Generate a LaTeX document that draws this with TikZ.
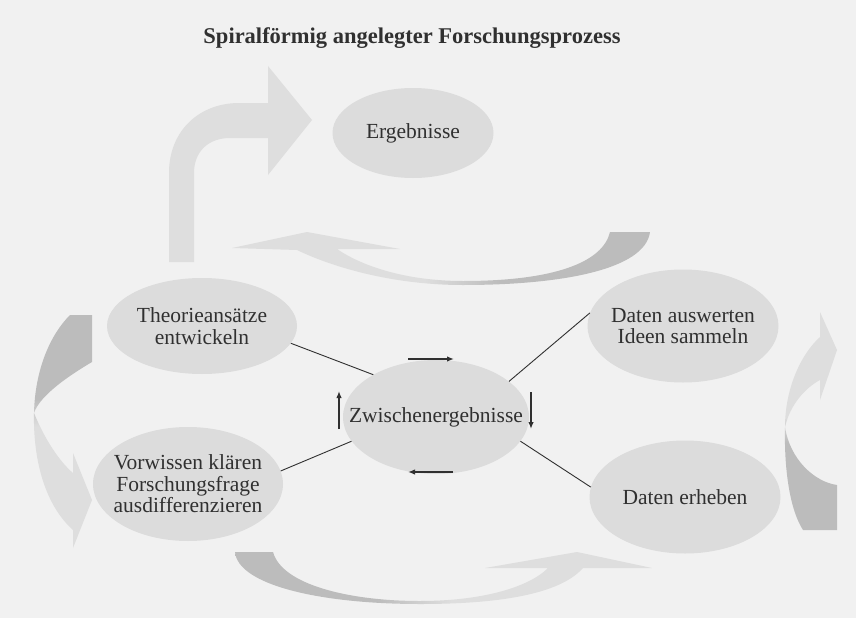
\documentclass[tikz,border=0pt]{standalone}
\usepackage{fontspec}
\setmainfont{Liberation Serif}
\usetikzlibrary{arrows.meta,shapes.geometric}
\definecolor{bg}{HTML}{F1F1F1}
\definecolor{ellfill}{HTML}{DCDCDC}
\definecolor{ribL}{HTML}{DEDEDE}
\definecolor{ribD}{HTML}{BCBCBC}
\definecolor{ink}{HTML}{303030}
\pgfdeclarehorizontalshading{rightdark}{100bp}{color(0bp)=(ribL); color(48bp)=(ribL); color(57bp)=(ribD); color(100bp)=(ribD)}
\pgfdeclarehorizontalshading{leftdark}{100bp}{color(0bp)=(ribD); color(42bp)=(ribD); color(51bp)=(ribL); color(100bp)=(ribL)}
\pgfdeclareverticalshading{topdark}{100bp}{color(0bp)=(ribL); color(51bp)=(ribL); color(57bp)=(ribD); color(100bp)=(ribD)}
\pgfdeclareverticalshading{bottomdark}{100bp}{color(0bp)=(ribD); color(45bp)=(ribD); color(51bp)=(ribL); color(100bp)=(ribL)}
\begin{document}
\begin{tikzpicture}[x=1pt,y=-1pt,
  ell/.style={ellipse, fill=ellfill, draw=none, inner sep=0pt},
  txt/.style={align=center, text=ink, inner sep=0pt, font=\fontsize{21.5}{21.5}\selectfont},
  conn/.style={draw=ink, line width=0.9pt},
  cyc/.style={draw=ink, line width=1.4pt, -{Latex[length=7pt,width=5.5pt]}}]
\fill[bg] (0,0) rectangle (856,618);
\useasboundingbox (0,0) rectangle (856,618);

% title
\node[font=\bfseries\fontsize{22.5}{22.5}\selectfont, text=ink, anchor=base] (title) at (412,44) {Spiralförmig angelegter Forschungsprozess};

% ribbon arrows
\fill[ribL] (169,262) -- (169,173) .. controls (169,130) and (200,103) .. (239,103) -- (268,103) -- (268,66) -- (312,120) -- (268,175) -- (268,138) -- (230,138) .. controls (208,138) and (194,152) .. (194,173) -- (194,262) -- cycle;

\shade[shading=rightdark] (610,232) -- (650,232) .. controls (645,270) and (560,285) .. (463,285) .. controls (390,285) and (330,266) .. (297,250) -- (232,248) -- (307,232) -- (400,249) -- (337,249) .. controls (365,268) and (410,281) .. (463,281) .. controls (555,281) and (603,262) .. (610,232) -- cycle;

\shade[shading=leftdark] (235,552) -- (273,552) .. controls (282,585) and (350,601) .. (420,601) .. controls (480,601) and (528,588) .. (548,568) -- (485,568) -- (577,552) -- (652,568) -- (583,568) .. controls (560,594) and (500,604) .. (420,604) .. controls (320,604) and (238,585) .. (235,552) -- cycle;

\shade[shading=topdark] (70,315) -- (92,315) -- (92,362) .. controls (70,375) and (40,395) .. (34,413) .. controls (45,440) and (60,462) .. (73,473) -- (73,453) -- (92,500) -- (73,548) -- (73,530) .. controls (45,505) and (33,460) .. (34,413) .. controls (35,370) and (50,335) .. (70,315) -- cycle;

\shade[shading=bottomdark] (803,530) -- (837,530) -- (837,485) .. controls (815,482) and (790,460) .. (785,427) .. controls (790,405) and (805,388) .. (820,380) -- (820,400) -- (837,350) -- (820,312) -- (820,337) .. controls (800,355) and (785,390) .. (785,427) .. controls (784,470) and (790,510) .. (803,530) -- cycle;

% ellipses
\node[ell, minimum width=161pt, minimum height=90pt] (erg) at (413,133) {};
\node[ell, minimum width=190pt, minimum height=96pt] (theo) at (202,326) {};
\node[ell, minimum width=191pt, minimum height=113pt] (da) at (683,326) {};
\node[ell, minimum width=186pt, minimum height=114pt] (zw) at (436,417) {};
\node[ell, minimum width=190pt, minimum height=114pt] (vw) at (188,484) {};
\node[ell, minimum width=191pt, minimum height=113pt] (de) at (685,497) {};

\node[txt] (ergt) at (erg) {Ergebnisse};
\node[txt] (theot) at (theo) {Theorieansätze\\entwickeln};
\node[txt] (dat) at (da) {Daten auswerten\\Ideen sammeln};
\node[txt] (zwt) at (zw) {Zwischenergebnisse};
\node[txt] (vwt) at (vw) {Vorwissen klären\\Forschungsfrage\\ausdifferenzieren};
\node[txt] (det) at (de) {Daten erheben};

% connectors
\draw[conn] (theo.-11) -- (zw.146);
\draw[conn] (da.172) -- (zw.26);
\draw[conn] (vw.8) -- (zw.196);
\draw[conn] (de.174) -- (zw.-16);

% small cycle arrows
\coordinate (t1) at (408,359); \coordinate (t2) at (454,359);
\coordinate (r1) at (531,392); \coordinate (r2) at (531,429);
\coordinate (b1) at (453,472); \coordinate (b2) at (408,472);
\coordinate (l1) at (339,429); \coordinate (l2) at (339,391);
\draw[cyc] (t1) -- (t2);
\draw[cyc] (r1) -- (r2);
\draw[cyc] (b1) -- (b2);
\draw[cyc] (l1) -- (l2);
\end{tikzpicture}
\end{document}
